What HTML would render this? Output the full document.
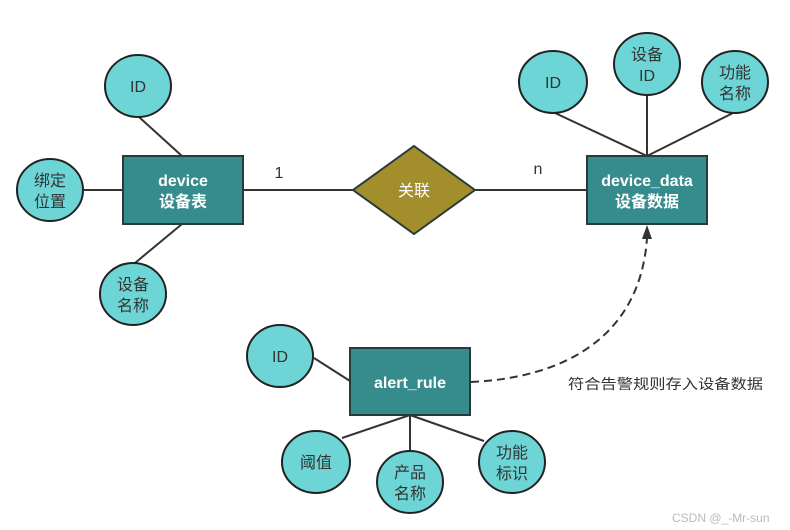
<!DOCTYPE html>
<html><head><meta charset="utf-8"><style>
html,body{margin:0;padding:0;background:#fff;}
svg{display:block;}
text{font-family:"Liberation Sans","Noto Sans CJK SC",sans-serif;}
</style></head><body>
<svg width="790" height="530" viewBox="0 0 790 530" xmlns="http://www.w3.org/2000/svg">
<g stroke="#333" stroke-width="2" fill="none">
<line x1="139" y1="117" x2="182" y2="156"/>
<line x1="84" y1="190" x2="123" y2="190"/>
<line x1="135" y1="263" x2="182" y2="224"/>
<line x1="243" y1="190" x2="354" y2="190"/>
<line x1="474" y1="190" x2="587" y2="190"/>
<line x1="555" y1="113" x2="647" y2="156"/>
<line x1="647" y1="95" x2="647" y2="156"/>
<line x1="733" y1="113" x2="647" y2="156"/>
<line x1="314" y1="358" x2="350" y2="381"/>
<line x1="410" y1="415" x2="342" y2="438"/>
<line x1="410" y1="415" x2="410" y2="451"/>
<line x1="410" y1="415" x2="484" y2="441"/>
<path d="M471 382 C 560 378, 640 340, 647 238" stroke-dasharray="8,5"/>
</g>
<polygon points="647,225 642,239 652,239" fill="#333"/>
<g fill="#6DD5D6" stroke="#222" stroke-width="2">
<ellipse cx="138" cy="86" rx="33" ry="31"/>
<ellipse cx="50" cy="190" rx="33" ry="31"/>
<ellipse cx="133" cy="294" rx="33" ry="31"/>
<ellipse cx="553" cy="82" rx="34" ry="31"/>
<ellipse cx="647" cy="64" rx="33" ry="31"/>
<ellipse cx="735" cy="82" rx="33" ry="31"/>
<ellipse cx="280" cy="356" rx="33" ry="31"/>
<ellipse cx="316" cy="462" rx="34" ry="31"/>
<ellipse cx="410" cy="482" rx="33" ry="31"/>
<ellipse cx="512" cy="462" rx="33" ry="31"/>
</g>
<g fill="#368C8C" stroke="#2a3a3a" stroke-width="2">
<rect x="123" y="156" width="120" height="68"/>
<rect x="587" y="156" width="120" height="68"/>
<rect x="350" y="348" width="120" height="67"/>
</g>
<polygon points="414,146 475,190 414,234 353,190" fill="#A38E2C" stroke="#2a3a3a" stroke-width="2"/>
<g fill="#fff" font-size="16" text-anchor="middle" font-weight="bold">
<text x="183" y="186">device</text>
<text x="183" y="207">设备表</text>
<text x="647" y="186">device_data</text>
<text x="647" y="207">设备数据</text>
<text x="410" y="388">alert_rule</text>
<text x="414" y="196" font-weight="normal">关联</text>
</g>
<g fill="#333" font-size="16" text-anchor="middle">
<text x="138" y="92">ID</text>
<text x="50" y="186">绑定</text><text x="50" y="207">位置</text>
<text x="133" y="290">设备</text><text x="133" y="311">名称</text>
<text x="553" y="88">ID</text>
<text x="647" y="60">设备</text><text x="647" y="81">ID</text>
<text x="735" y="78">功能</text><text x="735" y="99">名称</text>
<text x="280" y="362">ID</text>
<text x="316" y="468">阈值</text>
<text x="410" y="478">产品</text><text x="410" y="499">名称</text>
<text x="512" y="458">功能</text><text x="512" y="479">标识</text>
<text x="279" y="178">1</text>
<text x="538" y="174">n</text>
</g>
<text x="568" y="389" font-size="14" fill="#333" textLength="195" lengthAdjust="spacingAndGlyphs">符合告警规则存入设备数据</text>
<text x="672" y="522" font-size="12" fill="#bbb">CSDN @_-Mr-sun</text>
</svg>
</body></html>
